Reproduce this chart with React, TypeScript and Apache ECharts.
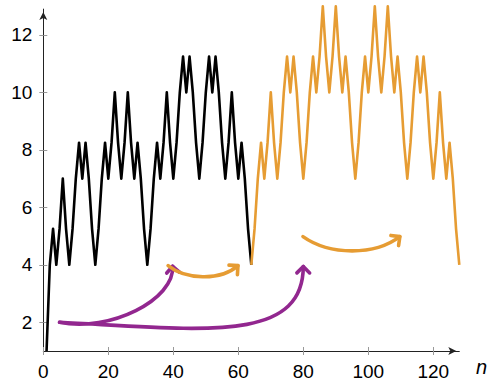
import React, { useEffect, useRef } from "react";
import * as echarts from "echarts";

// values, n = 1..64 (black part)
const blackValues = [
  1, 4, 5.25, 4, 5.25, 7, 5.25, 4,
  5.25, 7, 8.25, 7, 8.25, 7, 5.25, 4,
  5.25, 7, 8.25, 7, 8.25, 10, 8.25, 7,
  8.25, 10, 8.25, 7, 8.25, 7, 5.25, 4,
  5.25, 7, 8.25, 7, 8.25, 10, 8.25, 7,
  8.25, 10, 11.25, 10, 11.25, 10, 8.25, 7,
  8.25, 10, 11.25, 10, 11.25, 10, 8.25, 7,
  8.25, 10, 8.25, 7, 8.25, 7, 5.25, 4,
];
const blackStart = 1;

// n = 64..128 (orange part)
const orangeValues = [
  4,
  5.25, 7, 8.25, 7, 8.25, 10, 8.25, 7,
  8.25, 10, 11.25, 10, 11.25, 10, 8.25, 7,
  8.25, 10, 11.25, 10, 11.25, 13, 11.25, 10,
  11.25, 13, 11.25, 10, 11.25, 10, 8.25, 7,
  8.25, 10, 11.25, 10, 11.25, 13, 11.25, 10,
  11.25, 13, 11.25, 10, 11.25, 10, 8.25, 7,
  8.25, 10, 11.25, 10, 11.25, 10, 8.25, 7,
  8.25, 10, 8.25, 7, 8.25, 7, 5.25, 4,
];
const orangeStart = 64;

const xTicks = [0, 20, 40, 60, 80, 100, 120];
const yTicks = [2, 4, 6, 8, 10, 12];

// annotation arrows in data coordinates: start, control 1, control 2, end
const purpleArrowA = [[5, 2], [20.5, 1.64], [40.5, 2.79], [39.8, 3.95]];
const purpleArrowB = [[5, 2], [48.3, 1.75], [79.9, 1.23], [80, 3.94]];
const orangeArrowA = [[38.4, 3.97], [43.6, 3.49], [54.4, 3.42], [59.9, 3.97]];
const orangeArrowB = [[79.9, 4.98], [88.2, 4.32], [102, 4.32], [109.7, 4.98]];

const BLACK = "#000000";
const ORANGE = "#E69C33";
const PURPLE = "#92278F";
const FONT = "'Liberation Sans', Arial, Helvetica, sans-serif";

export default function App() {
  const ref = useRef<HTMLDivElement>(null);
  useEffect(() => {
    if (!ref.current) return;
    const chart = echarts.init(ref.current, null, { renderer: "svg" });
    const axisLabel = { fontSize: 19, fontFamily: FONT, color: "#000", margin: 11 };
    chart.setOption({
      animation: false,
      backgroundColor: "#fff",
      grid: { left: 43.3, right: 30.7, top: 9.1, bottom: 29.5 },
      xAxis: [
        {
          type: "value", min: 0, max: 128, position: "bottom",
          axisLine: { show: true, onZero: false, symbol: ["none", "arrow"], symbolSize: [6, 8], symbolOffset: [0, -3], lineStyle: { color: "#222", width: 1 } },
          axisTick: { show: true, length: 4, customValues: xTicks, lineStyle: { color: "#999", width: 1 } },
          axisLabel: { ...axisLabel, customValues: xTicks },
          splitLine: { show: false },
        },
        {
          type: "value", min: 0, max: 128, position: "bottom",
          axisLine: { show: false, onZero: false },
          axisTick: { show: true, inside: true, length: 4, customValues: xTicks, lineStyle: { color: "#999", width: 1 } },
          axisLabel: { show: false },
          splitLine: { show: false },
        },
      ],
      yAxis: [
        {
          type: "value", min: 1, max: 12.9, position: "left",
          axisLine: { show: true, onZero: false, symbol: ["none", "arrow"], symbolSize: [6, 8], symbolOffset: [0, -3], lineStyle: { color: "#222", width: 1 } },
          axisTick: { show: true, length: 4, customValues: yTicks, lineStyle: { color: "#999", width: 1 } },
          axisLabel: { ...axisLabel, customValues: yTicks },
          splitLine: { show: false },
        },
        {
          type: "value", min: 1, max: 12.9, position: "left",
          axisLine: { show: false, onZero: false },
          axisTick: { show: true, inside: true, length: 4, customValues: yTicks, lineStyle: { color: "#999", width: 1 } },
          axisLabel: { show: false },
          splitLine: { show: false },
        },
      ],
      series: [
        {
          type: "line", xAxisIndex: 0, yAxisIndex: 0,
          data: blackValues.map((v, i) => [blackStart + i, v]),
          symbol: "none", showSymbol: false, clip: false, z: 3,
          lineStyle: { color: BLACK, width: 2.6, join: "round" },
        },
        {
          type: "line", xAxisIndex: 0, yAxisIndex: 0,
          data: orangeValues.map((v, i) => [orangeStart + i, v]),
          symbol: "none", showSymbol: false, clip: false, z: 4,
          lineStyle: { color: ORANGE, width: 2.6, join: "round" },
        },
      ],
    });

    const px = (p: number[]) => chart.convertToPixel({ gridIndex: 0 }, p) as number[];
    const arrow = (pts: number[][], color: string) => {
      const [a, b, c, d] = pts.map(px);
      const dx = d[0] - c[0], dy = d[1] - c[1];
      const L = Math.hypot(dx, dy) || 1;
      const bx = -dx / L, by = -dy / L;
      const ang = Math.PI / 4, len = 9;
      const r1 = [d[0] + len * (bx * Math.cos(ang) - by * Math.sin(ang)), d[1] + len * (bx * Math.sin(ang) + by * Math.cos(ang))];
      const r2 = [d[0] + len * (bx * Math.cos(ang) + by * Math.sin(ang)), d[1] + len * (-bx * Math.sin(ang) + by * Math.cos(ang))];
      const style = { stroke: color, lineWidth: 3.6, fill: "none", lineCap: "round", lineJoin: "round" };
      return [
        { type: "bezierCurve", z: 20, shape: { x1: a[0], y1: a[1], cpx1: b[0], cpy1: b[1], cpx2: c[0], cpy2: c[1], x2: d[0], y2: d[1] }, style },
        { type: "polyline", z: 20, shape: { points: [r1, d, r2] }, style },
      ];
    };

    chart.setOption({
      graphic: [
        ...arrow(purpleArrowA, PURPLE),
        ...arrow(purpleArrowB, PURPLE),
        ...arrow(orangeArrowA, ORANGE),
        ...arrow(orangeArrowB, ORANGE),
        { type: "text", left: 476, top: 357, z: 20, style: { text: "n", font: `italic 20px ${FONT}`, fill: "#000" } },
      ],
    });

    return () => chart.dispose();
  }, []);
  return <div ref={ref} style={{ position: "absolute", left: 0, top: 0, width: 490, height: 381 }} />;
}
